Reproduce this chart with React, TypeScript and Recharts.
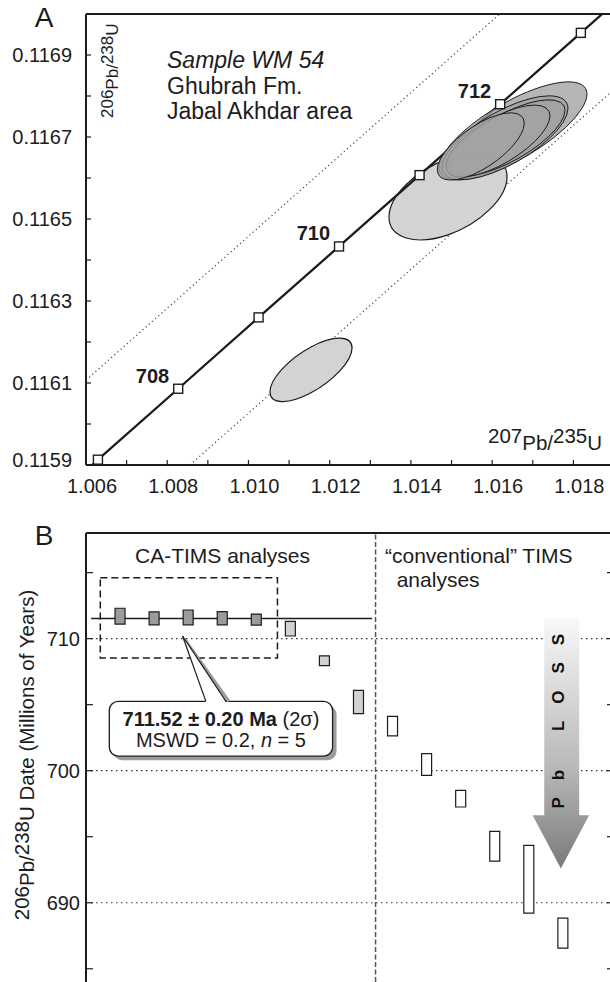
import React from 'react';
import {
  ComposedChart,
  Line,
  Bar,
  Cell,
  XAxis,
  YAxis,
  ReferenceArea,
  ReferenceLine,
} from 'recharts';

const FONT = '"Liberation Sans", Arial, Helvetica, sans-serif';
const INK = '#1c1c1c';

// ---------- Panel A: concordia diagram ----------
const concordiaAges = [707, 708, 709, 710, 711, 712, 713];
const concordiaPb207U235 = [1.006294, 1.00827, 1.010249, 1.01223, 1.014213, 1.016197, 1.018184];
const concordiaPb206U238 = [0.115913, 0.116086, 0.11626, 0.116433, 0.116607, 0.11678, 0.116954];
const labelledAges = [708, 710, 712];
// where the curve meets the frame
const concordiaStart = { x: 1.00615, y: 0.1159 };
const concordiaEnd = { x: 1.01871, y: 0.117 };

// decay-constant uncertainty envelope
const envelopeUpper = [
  { x: 1.006, y: 0.116107 },
  { x: 1.016185, y: 0.117 },
];
const envelopeLower = [
  { x: 1.008558, y: 0.1159 },
  { x: 1.019, y: 0.116816 },
];

// 2-sigma error ellipses: 207Pb/235U, 206Pb/238U, error correlation
const excludedEllipses = [
  { x: 1.01154, sx: 0.00101, y: 0.116132, sy: 0.0000773, rho: 0.69 },
  { x: 1.014913, sx: 0.001453, y: 0.116554, sy: 0.0001049, rho: 0.47 },
];
const caTimsEllipses = [
  { x: 1.016513, sx: 0.001822, y: 0.116715, sy: 0.0001195, rho: 0.75 },
  { x: 1.016316, sx: 0.001551, y: 0.116698, sy: 0.0001024, rho: 0.7 },
  { x: 1.016365, sx: 0.001428, y: 0.116698, sy: 0.0000927, rho: 0.72 },
  { x: 1.016144, sx: 0.00128, y: 0.11669, sy: 0.0000878, rho: 0.7 },
  { x: 1.01572, sx: 0.001071, y: 0.116677, sy: 0.000082, rho: 0.69 },
];

const xTicksA = [1.006, 1.007, 1.008, 1.009, 1.01, 1.011, 1.012, 1.013, 1.014, 1.015, 1.016, 1.017, 1.018, 1.019];
const yTicksA = [0.1159, 0.116, 0.1161, 0.1162, 0.1163, 0.1164, 0.1165, 0.1166, 0.1167, 0.1168, 0.1169, 0.117];
const sampleLines = ['Sample WM 54', 'Ghubrah Fm.', 'Jabal Akhdar area'];

// ---------- Panel B: 206Pb/238U dates ----------
const caTimsLow = [711.1, 711.05, 711.05, 711.05, 711.03];
const caTimsHigh = [712.3, 712.03, 712.17, 712.05, 711.86];
const excludedLow = [710.2, 707.95, 704.32];
const excludedHigh = [711.31, 708.69, 706.08];
const conventionalLow = [702.63, 699.64, 697.25, 693.16, 689.22, 686.57];
const conventionalHigh = [704.11, 701.29, 698.51, 695.4, 694.34, 688.84];
const weightedMean = 711.52;
const weightedMeanErr = 0.2;
const mswd = 0.2;
const yTicksB = [685, 690, 695, 700, 705, 710, 715];
const gridB = [690, 700, 710];

const groupFill: Record<string, string> = {
  ca: '#9b9b9b',
  excluded: '#d2d2d2',
  conventional: '#ffffff',
};

const rowsB = [
  ...caTimsLow.map((lo, k) => ({ group: 'ca', lo, hi: caTimsHigh[k] })),
  ...excludedLow.map((lo, k) => ({ group: 'excluded', lo, hi: excludedHigh[k] })),
  ...conventionalLow.map((lo, k) => ({ group: 'conventional', lo, hi: conventionalHigh[k] })),
].map((r, k) => ({ ...r, i: k + 1, range: [r.lo, r.hi] }));

const concordiaData = [
  concordiaStart,
  ...concordiaAges.map((age, k) => ({ x: concordiaPb207U235[k], y: concordiaPb206U238[k], age })),
  concordiaEnd,
];

// ellipse inscribed in the 2-sigma box, sheared by the error correlation
const ellipseShape = (rho: number, fill: string, fillOpacity: number, strokeWidth: number) => (p: any) => {
  const a = p.width / 2;
  const b = p.height / 2;
  const cx = p.x + a;
  const cy = p.y + b;
  const m = `matrix(${a} ${-b * rho} 0 ${-b * Math.sqrt(1 - rho * rho)} ${cx} ${cy})`;
  return (
    <circle
      cx={0}
      cy={0}
      r={1}
      transform={m}
      fill={fill}
      fillOpacity={fillOpacity}
      stroke={INK}
      strokeWidth={strokeWidth}
      vectorEffect="non-scaling-stroke"
    />
  );
};

const concordiaDot = (p: any) => {
  const { cx, cy, payload, index } = p;
  if (payload == null || payload.age == null) return <g key={`cd${index}`} />;
  return (
    <g key={`cd${index}`}>
      <rect x={cx - 4.5} y={cy - 4.5} width={9} height={9} fill="#fff" stroke={INK} strokeWidth={1.4} />
      {labelledAges.includes(payload.age) && (
        <text x={cx - 9} y={cy - 6} textAnchor="end" fontSize={20} fontWeight="bold" fill={INK} fontFamily={FONT}>
          {payload.age}
        </text>
      )}
    </g>
  );
};

const yTickA = (p: any) => {
  const v = p.payload.value;
  const k = Math.round(v * 10000);
  if (k % 2 === 0) return <g />;
  return (
    <text x={p.x} y={p.y + (k === 1159 ? 1.5 : 6.5)} textAnchor="end" fontSize={20} fill={INK} fontFamily={FONT}>
      {v.toFixed(4)}
    </text>
  );
};

const xTickA = (p: any) => {
  const v = p.payload.value;
  const k = Math.round(v * 1000);
  if (k % 2 !== 0 || k > 1018) return <g />;
  return (
    <text x={p.x + 6} y={p.y} textAnchor="middle" fontSize={20} fill={INK} fontFamily={FONT}>
      {v.toFixed(3)}
    </text>
  );
};

const yTickB = (p: any) => {
  const v = p.payload.value;
  if (!gridB.includes(v)) return <g />;
  return (
    <text x={p.x} y={p.y + 7} textAnchor="end" fontSize={20} fill={INK} fontFamily={FONT}>
      {v}
    </text>
  );
};

const noLabel = () => <g />;

// Pb-loss arrow inside its bounding box
const arrowShape = (p: any) => {
  const { x, y, width: w, height: h } = p;
  const sL = x + w * 0.206;
  const sR = x + w * 0.824;
  const headY = y + h * 0.787;
  const pts = [
    [sL, y],
    [sR, y],
    [sR, headY],
    [x + w, headY],
    [x + w * 0.5, y + h],
    [x, headY],
    [sL, headY],
  ]
    .map((q) => q.join(','))
    .join(' ');
  const tx = x + w * 0.56;
  const ty = y + h * 0.76;
  return (
    <g>
      <defs>
        <linearGradient id="pbLossGrad" x1="0" y1="0" x2="0" y2="1">
          <stop offset="0%" stopColor="#f8f8f8" />
          <stop offset="60%" stopColor="#b8b8b8" />
          <stop offset="100%" stopColor="#7a7a7a" />
        </linearGradient>
      </defs>
      <polygon points={pts} fill="url(#pbLossGrad)" />
      <text
        x={tx}
        y={ty}
        transform={`rotate(-90 ${tx} ${ty})`}
        fontSize={17}
        fontWeight="bold"
        letterSpacing={17}
        fill="#111"
        fontFamily={FONT}
      >
        Pb LOSS
      </text>
    </g>
  );
};

const calloutBox = (p: any) => {
  const { x, y, width: w, height: h } = p;
  return (
    <g>
      <rect x={x + 4} y={y + 4} width={w} height={h} rx={9} fill="#9c9c9c" />
      <rect x={x} y={y} width={w} height={h} rx={9} fill="#fff" stroke={INK} strokeWidth={1.3} />
      <text x={x + w / 2} y={y + 25} textAnchor="middle" fontSize={20} fill={INK} fontFamily={FONT}>
        <tspan fontWeight="bold">{`${weightedMean.toFixed(2)} ± ${weightedMeanErr.toFixed(2)} Ma`}</tspan>
        <tspan>{' (2σ)'}</tspan>
      </text>
      <text x={x + w / 2} y={y + 46} textAnchor="middle" fontSize={20} fill={INK} fontFamily={FONT}>
        {`MSWD = ${mswd.toFixed(1)}, `}
        <tspan fontStyle="italic">n</tspan>
        {` = ${caTimsLow.length}`}
      </text>
    </g>
  );
};

const calloutWedge = (p: any) => {
  const { x, y, width: w, height: h } = p;
  const bL = x + w * 0.537;
  const bR = x + w;
  const by = y + h;
  return (
    <g>
      <line x1={x + 2} y1={y + 3} x2={bR + 3} y2={by} stroke="#9c9c9c" strokeWidth={3} />
      <polygon points={`${x},${y} ${bL},${by + 1} ${bR},${by + 1}`} fill="#fff" />
      <line x1={x} y1={y} x2={bL} y2={by} stroke={INK} strokeWidth={1.2} />
      <line x1={x} y1={y} x2={bR} y2={by} stroke={INK} strokeWidth={1.2} />
    </g>
  );
};

const txt = { fill: INK, fontFamily: FONT } as const;

export default function App() {
  return (
    <div
      style={{
        position: 'absolute',
        left: 0,
        top: 0,
        width: 610,
        height: 982,
        overflow: 'hidden',
        background: '#fff',
      }}
    >
      {/* Panel A */}
      <div style={{ position: 'absolute', left: 0, top: 0 }}>
        <ComposedChart width={624} height={510} margin={{ top: 14, right: 10, bottom: 0, left: 0 }}>
          <XAxis
            type="number"
            dataKey="x"
            domain={[1.006, 1.019]}
            allowDataOverflow
            ticks={xTicksA}
            interval={0}
            height={45}
            tickSize={-5}
            tickMargin={33}
            tick={xTickA}
            axisLine={{ stroke: INK, strokeWidth: 2 }}
            tickLine={{ stroke: INK, strokeWidth: 1.2 }}
          />
          <YAxis
            type="number"
            dataKey="y"
            domain={[0.1159, 0.117]}
            allowDataOverflow
            ticks={yTicksA}
            interval={0}
            width={86}
            tickSize={-5}
            tickMargin={19}
            tick={yTickA}
            axisLine={{ stroke: INK, strokeWidth: 2 }}
            tickLine={{ stroke: INK, strokeWidth: 1.2 }}
          />
          <ReferenceLine y={0.117} stroke={INK} strokeWidth={2} zIndex={5} />
          <Line
            data={envelopeUpper}
            dataKey="y"
            type="linear"
            stroke="#444"
            strokeWidth={1.2}
            strokeDasharray="1.2 3"
            dot={false}
            activeDot={false}
            isAnimationActive={false}
            zIndex={10}
          />
          <Line
            data={envelopeLower}
            dataKey="y"
            type="linear"
            stroke="#444"
            strokeWidth={1.2}
            strokeDasharray="1.2 3"
            dot={false}
            activeDot={false}
            isAnimationActive={false}
            zIndex={10}
          />
          {excludedEllipses.map((e, k) => (
            <ReferenceArea
              key={`ex${k}`}
              x1={e.x - e.sx}
              x2={e.x + e.sx}
              y1={e.y - e.sy}
              y2={e.y + e.sy}
              shape={ellipseShape(e.rho, '#d3d3d3', 1, 1.2)}
              zIndex={20}
            />
          ))}
          <Line
            data={concordiaData}
            dataKey="y"
            type="linear"
            stroke={INK}
            strokeWidth={2.3}
            dot={concordiaDot}
            activeDot={false}
            isAnimationActive={false}
            zIndex={30}
          />
          {caTimsEllipses.map((e, k) => (
            <ReferenceArea
              key={`ca${k}`}
              x1={e.x - e.sx}
              x2={e.x + e.sx}
              y1={e.y - e.sy}
              y2={e.y + e.sy}
              shape={ellipseShape(e.rho, '#a2a2a2', 0.8, 1)}
              zIndex={40}
            />
          ))}
          <text x={44} y={27} textAnchor="middle" fontSize={28} {...txt}>
            A
          </text>
          {sampleLines.map((s, k) => (
            <text key={s} x={167} y={68 + k * 25.5} fontSize={23} fontStyle={k === 0 ? 'italic' : 'normal'} {...txt}>
              {s}
            </text>
          ))}
          <text x={118} y={118} transform="rotate(-90 118 118)" fontSize={17} {...txt}>
            <tspan dy={-5}>206</tspan>
            <tspan dy={5}>Pb/</tspan>
            <tspan dy={-5}>238</tspan>
            <tspan dy={5}>U</tspan>
          </text>
          <text x={488} y={443} fontSize={20.5} {...txt}>
            207
            <tspan dy={7}>Pb/</tspan>
            <tspan dy={-7}>235</tspan>
            <tspan dy={7}>U</tspan>
          </text>
        </ComposedChart>
      </div>

      {/* Panel B */}
      <div style={{ position: 'absolute', left: 0, top: 520 }}>
        <ComposedChart width={624} height={462} data={rowsB} margin={{ top: 13, right: 0, bottom: 0, left: 0 }}>
          <XAxis type="number" dataKey="i" domain={[0, 15.5]} allowDataOverflow hide />
          <YAxis
            type="number"
            domain={[684, 718]}
            allowDataOverflow
            ticks={yTicksB}
            interval={0}
            width={86}
            tickSize={-7}
            tickMargin={13}
            tick={yTickB}
            axisLine={{ stroke: INK, strokeWidth: 2 }}
            tickLine={{ stroke: INK, strokeWidth: 1.2 }}
          />
          <YAxis
            yAxisId="right"
            orientation="right"
            type="number"
            domain={[684, 718]}
            allowDataOverflow
            ticks={yTicksB}
            interval={0}
            width={10}
            tickSize={-7}
            tick={noLabel}
            axisLine={{ stroke: INK, strokeWidth: 2 }}
            tickLine={{ stroke: INK, strokeWidth: 1.2 }}
          />
          <ReferenceLine y={718} stroke={INK} strokeWidth={2} zIndex={5} />
          {gridB.map((g) => (
            <ReferenceLine key={g} y={g} stroke="#333" strokeWidth={1.2} strokeDasharray="1.5 3.5" zIndex={5} />
          ))}
          <ReferenceLine x={8.5} stroke="#555" strokeWidth={1.5} strokeDasharray="5 2.5" zIndex={6} />
          <ReferenceLine
            segment={[
              { x: 0.15, y: weightedMean },
              { x: 8.4, y: weightedMean },
            ]}
            stroke={INK}
            strokeWidth={1.5}
            zIndex={7}
          />
          <Bar dataKey="range" barSize={10} stroke={INK} strokeWidth={1.2} isAnimationActive={false} zIndex={20}>
            {rowsB.map((r) => (
              <Cell key={r.i} fill={groupFill[r.group]} />
            ))}
          </Bar>
          <ReferenceArea
            x1={0.42}
            x2={5.62}
            y1={708.54}
            y2={714.62}
            fill="none"
            fillOpacity={0}
            stroke={INK}
            strokeWidth={1.5}
            strokeDasharray="7 4"
            zIndex={30}
          />
          <ReferenceArea x1={0.684} x2={7.238} y1={701.1} y2={705.25} shape={calloutBox} zIndex={40} />
          <ReferenceArea x1={2.835} x2={4.11} y1={705.25} y2={710.2} shape={calloutWedge} zIndex={41} />
          <ReferenceArea x1={13.11} x2={14.77} y1={692.6} y2={711.5} shape={arrowShape} zIndex={45} />
          <text x={44} y={25} textAnchor="middle" fontSize={28} {...txt}>
            B
          </text>
          <text x={222.5} y={43.3} textAnchor="middle" fontSize={21} {...txt}>
            CA-TIMS analyses
          </text>
          <text x={385} y={43.3} fontSize={21} {...txt}>
            “conventional” TIMS
          </text>
          <text x={396.7} y={66.7} fontSize={21} {...txt}>
            analyses
          </text>
          <text x={34} y={235} transform="rotate(-90 34 235)" textAnchor="middle" fontSize={20.5} {...txt}>
            <tspan dy={-5}>206</tspan>
            <tspan dy={5}>Pb/</tspan>
            <tspan dy={-5}>238</tspan>
            <tspan dy={5}>U Date (Millions of Years)</tspan>
          </text>
        </ComposedChart>
      </div>
    </div>
  );
}
